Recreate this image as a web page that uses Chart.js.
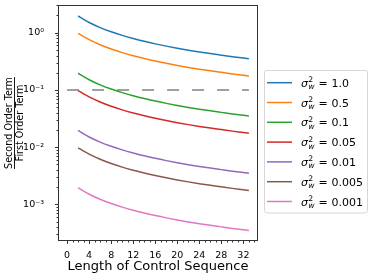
<!DOCTYPE html>
<html>
<head>
<meta charset="utf-8">
<script src="https://cdn.jsdelivr.net/npm/chart.js@4.4.1/dist/chart.umd.min.js"></script>
<style>
  html, body { margin: 0; padding: 0; background: #fff; }
  #wrap { width: 374px; height: 280px; }
</style>
</head>
<body>
<div id="wrap"><canvas id="myChart" width="374" height="280"></canvas></div>
<script>
// sequence lengths
var xValues = [2, 3, 4, 6, 8, 10, 12, 14, 16, 18, 20, 22, 24, 26, 28, 30, 32, 33];

// second order / first order ratio, one list per noise variance
var s1_0   = [1.96, 1.71, 1.51, 1.23, 1.04, 0.899, 0.792, 0.707, 0.639, 0.583, 0.536, 0.496, 0.462, 0.432, 0.406, 0.382, 0.361, 0.352];
var s0_5   = [0.978, 0.853, 0.756, 0.616, 0.520, 0.449, 0.396, 0.354, 0.320, 0.292, 0.268, 0.248, 0.231, 0.216, 0.203, 0.191, 0.181, 0.176];
var s0_1   = [0.196, 0.171, 0.151, 0.123, 0.104, 0.0899, 0.0792, 0.0707, 0.0639, 0.0583, 0.0536, 0.0496, 0.0462, 0.0432, 0.0406, 0.0382, 0.0361, 0.0352];
var s0_05  = [0.0978, 0.0853, 0.0756, 0.0616, 0.0520, 0.0449, 0.0396, 0.0354, 0.0320, 0.0292, 0.0268, 0.0248, 0.0231, 0.0216, 0.0203, 0.0191, 0.0181, 0.0176];
var s0_01  = [0.0196, 0.0171, 0.0151, 0.0123, 0.0104, 0.00899, 0.00792, 0.00707, 0.00639, 0.00583, 0.00536, 0.00496, 0.00462, 0.00432, 0.00406, 0.00382, 0.00361, 0.00352];
var s0_005 = [0.00978, 0.00853, 0.00756, 0.00616, 0.00520, 0.00449, 0.00396, 0.00354, 0.00320, 0.00292, 0.00268, 0.00248, 0.00231, 0.00216, 0.00203, 0.00191, 0.00181, 0.00176];
var s0_001 = [0.00196, 0.00171, 0.00151, 0.00123, 0.00104, 0.000899, 0.000792, 0.000707, 0.000639, 0.000583, 0.000536, 0.000496, 0.000462, 0.000432, 0.000406, 0.000382, 0.000361, 0.000352];

var sigmaLabels = ["1.0", "0.5", "0.1", "0.05", "0.01", "0.005", "0.001"];
var colors = ["#1f77b4", "#ff7f0e", "#2ca02c", "#d62728", "#9467bd", "#8c564b", "#e377c2"];

// threshold line
var refX = [0, 33];
var refY = [0.1, 0.1];

var xTicks = [0, 4, 8, 12, 16, 20, 24, 28, 32];
var xTickLabels = ["0", "4", "8", "12", "16", "20", "24", "28", "32"];
var yTicks = [0.001, 0.01, 0.1, 1];
var yTickLabels = ["10\u207B\u00B3", "10\u207B\u00B2", "10\u207B\u00B9", "10\u2070"];

Chart.defaults.font.family = "'DejaVu Sans'";
Chart.defaults.color = "#000";

function pts(xs, ys) {
  return xs.map(function (x, i) { return { x: x, y: ys[i] }; });
}

var series = [s1_0, s0_5, s0_1, s0_05, s0_01, s0_005, s0_001];
var datasets = series.map(function (ys, i) {
  return {
    label: "\u03C3\u00B2w = " + sigmaLabels[i],
    sigma: sigmaLabels[i],
    data: pts(xValues, ys),
    borderColor: colors[i],
    backgroundColor: colors[i],
    borderWidth: 1.5,
    pointRadius: 0,
    cubicInterpolationMode: "monotone",
    fill: false
  };
});
datasets.push({
  label: "threshold",
  data: pts(refX, refY),
  borderColor: "#a0a0a0",
  borderWidth: 2,
  borderDash: [12, 13],
  pointRadius: 0,
  fill: false
});

// frame + major/minor ticks like matplotlib
var framePlugin = {
  id: "frame",
  afterDraw: function (chart) {
    var ctx = chart.ctx, a = chart.chartArea;
    var xs = chart.scales.x, ys = chart.scales.y;
    ctx.save();
    ctx.strokeStyle = "#333";
    ctx.lineWidth = 1;
    var L = Math.round(a.left) + 0.5, R = Math.round(a.right) - 0.5;
    var T = Math.round(a.top) + 0.5, B = Math.round(a.bottom) - 0.5;
    ctx.strokeRect(L, T, R - L, B - T);
    ctx.beginPath();
    for (var v = 0; v <= 34; v++) {
      var px = Math.round(xs.getPixelForValue(v)) + 0.5;
      var len = (v % 4 === 0) ? 3.5 : 2;
      ctx.moveTo(px, B); ctx.lineTo(px, B + len);
    }
    for (var e = -4; e <= 0; e++) {
      for (var m = 1; m <= 9; m++) {
        var val = m * Math.pow(10, e);
        if (val < ys.min || val > ys.max) continue;
        var py = Math.round(ys.getPixelForValue(val)) + 0.5;
        var l2 = (m === 1) ? 3.5 : 2;
        ctx.moveTo(L, py); ctx.lineTo(L - l2, py);
      }
    }
    ctx.stroke();
    ctx.restore();
  }
};

// stacked fraction title for the y axis
var yTitlePlugin = {
  id: "yTitle",
  afterDraw: function (chart) {
    var ctx = chart.ctx, a = chart.chartArea;
    var cy = (a.top + a.bottom) / 2;
    ctx.save();
    ctx.translate(14, cy);
    ctx.rotate(-Math.PI / 2);
    ctx.font = "9.6px 'DejaVu Sans'";
    ctx.fillStyle = "#000";
    ctx.textAlign = "center";
    ctx.textBaseline = "alphabetic";
    var top = "Second Order Term", bot = "First Order Term";
    var w = Math.max(ctx.measureText(top).width, ctx.measureText(bot).width);
    ctx.fillText(top, 0, -2);
    ctx.fillText(bot, 0, 8.5);
    ctx.fillRect(-w / 2, 0, w, 0.9);
    ctx.restore();
  }
};

var legendPlugin = {
  id: "sigmaLegend",
  afterDraw: function (chart) {
    var ctx = chart.ctx;
    var bx = 264.5, by = 70.5, bw = 103, bh = 142.5, r = 2.5;
    ctx.save();
    ctx.beginPath();
    ctx.moveTo(bx + r, by);
    ctx.arcTo(bx + bw, by, bx + bw, by + bh, r);
    ctx.arcTo(bx + bw, by + bh, bx, by + bh, r);
    ctx.arcTo(bx, by + bh, bx, by, r);
    ctx.arcTo(bx, by, bx + bw, by, r);
    ctx.closePath();
    ctx.fillStyle = "rgba(255,255,255,0.8)";
    ctx.fill();
    ctx.strokeStyle = "#d6d6d6";
    ctx.lineWidth = 1;
    ctx.stroke();

    var rows = chart.data.datasets.filter(function (d) { return d.sigma; });
    rows.forEach(function (ds, i) {
      var y = 82.7 + i * 19.8;
      ctx.beginPath();
      ctx.strokeStyle = ds.borderColor;
      ctx.lineWidth = 1.5;
      ctx.moveTo(267, y); ctx.lineTo(292, y);
      ctx.stroke();

      var base = y + 4;
      var x = 301;
      ctx.fillStyle = "#000";
      ctx.textAlign = "left";
      ctx.textBaseline = "alphabetic";
      ctx.font = "italic 11px 'DejaVu Sans'";
      ctx.fillText("\u03C3", x, base);
      x += ctx.measureText("\u03C3").width + 0.3;
      ctx.font = "7.7px 'DejaVu Sans'";
      ctx.fillText("2", x, base - 4.6);
      var w2 = ctx.measureText("2").width;
      ctx.font = "italic 7.7px 'DejaVu Sans'";
      ctx.fillText("w", x, base + 2.4);
      var ww = ctx.measureText("w").width;
      var sEnd = x + Math.max(w2, ww);
      var vx = 331.5;
      ctx.font = "11px 'DejaVu Sans'";
      ctx.textAlign = "center";
      ctx.fillText("=", (sEnd + vx) / 2, base);
      ctx.textAlign = "left";
      ctx.fillText(ds.sigma, vx, base);
    });
    ctx.restore();
  }
};

new Chart("myChart", {
  type: "line",
  data: { datasets: datasets },
  options: {
    responsive: false,
    animation: false,
    layout: { padding: { left: 0, right: 116, top: 5, bottom: 0 } },
    plugins: { legend: { display: false }, tooltip: { enabled: false } },
    scales: {
      x: {
        type: "linear",
        min: -1.65,
        max: 34.65,
        grid: { display: false },
        border: { display: false },
        afterBuildTicks: function (s) { s.ticks = xTicks.map(function (v) { return { value: v }; }); },
        afterFit: function (s) { s.height = 39; s.paddingLeft = 0; s.paddingRight = 0; },
        ticks: {
          autoSkip: false,
          maxRotation: 0,
          padding: 1,
          font: { size: 9.5 },
          callback: function (v, i) { return xTickLabels[i]; }
        },
        title: {
          display: true,
          text: "Length of Control Sequence",
          font: { size: 13 },
          padding: { top: 0, bottom: 6 }
        }
      },
      y: {
        type: "logarithmic",
        min: 0.00023,
        max: 3.05,
        grid: { display: false },
        border: { display: false },
        afterBuildTicks: function (s) { s.ticks = yTicks.map(function (v) { return { value: v }; }); },
        afterFit: function (s) { s.width = 58; s.paddingTop = 0; s.paddingBottom = 0; },
        ticks: {
          autoSkip: false,
          padding: 6,
          font: { size: 9.5 },
          callback: function (v, i) { return yTickLabels[i]; }
        }
      }
    }
  },
  plugins: [framePlugin, yTitlePlugin, legendPlugin]
});
</script>
</body>
</html>
